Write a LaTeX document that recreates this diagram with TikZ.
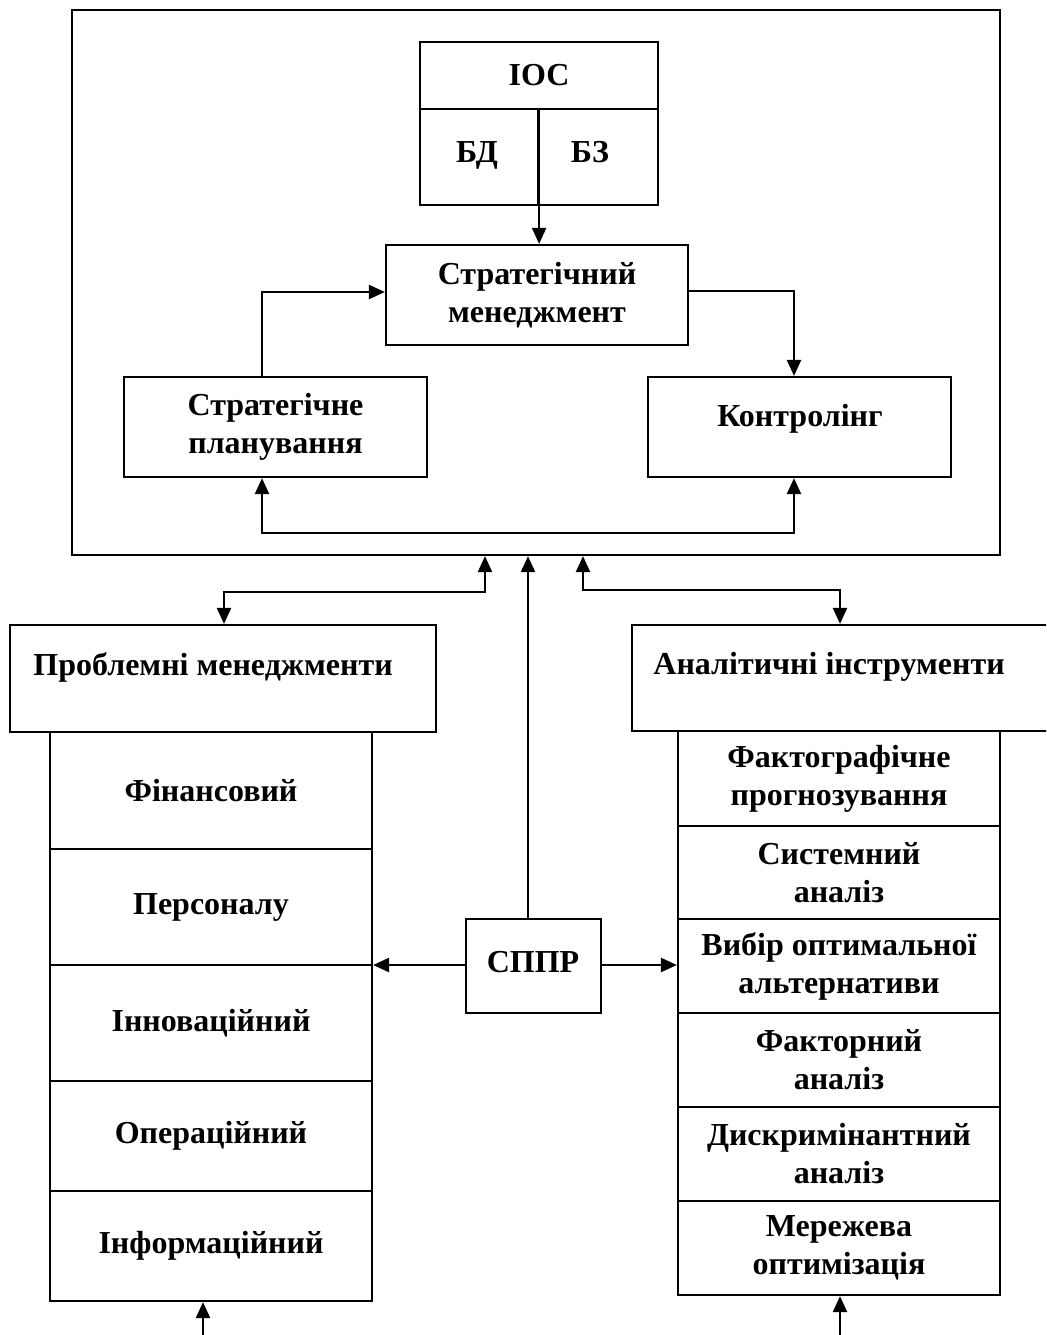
\documentclass[tikz,border=0pt]{standalone}
\usepackage{fontspec}
\setmainfont{Liberation Serif}
\usetikzlibrary{arrows.meta}
% rectangle node given by its corner coordinates (in px units)
\newcommand\rectnode[7][]{%
  \node[box,#1,minimum width={(#5-#3)*0.5pt},minimum height={(#6-#4)*0.5pt}]
    (#2) at ({(#3+#5)/2},{(#4+#6)/2}) {#7};}
\begin{document}
\begin{tikzpicture}[x=0.5pt,y=-0.5pt,
  txt/.style={font=\bfseries\fontsize{16}{19}\selectfont,align=center},
  box/.style={draw,line width=1.1pt,inner sep=0pt,txt},
  lbl/.style={inner sep=0pt,txt},
  tip/.tip={Triangle[length=8pt,width=7pt]},
  conn/.style={line width=1.1pt,-tip},
  biconn/.style={line width=1.1pt,tip-tip}]
\useasboundingbox (0,0) rectangle (1046,1335);
\clip (0,0) rectangle (1046,1335);

% upper block
\rectnode{outer}{72}{10}{1000}{555}{}
\rectnode{ioc}{420}{42}{658}{109}{ІОС}
\rectnode{bd}{420}{109}{538}{205}{}
\rectnode{bz}{538}{109}{658}{205}{}
\node[lbl,anchor=base] (bdt) at (477,162) {БД};
\node[lbl,anchor=base] (bzt) at (590,162) {БЗ};
\rectnode{strat}{386}{245}{688}{345}{Стратегічний\\менеджмент}
\rectnode{plan}{124}{377}{427}{477}{Стратегічне\\планування}
\rectnode{ctrl}{648}{377}{951}{477}{}
\node[lbl] (ctrlt) at (800,419) {Контролінг};

\coordinate (xl) at (262,0);
\coordinate (xr) at (794,0);
\coordinate (yb) at (0,533);

\draw[conn] (bd.north east) -- (bd.north east |- strat.north);
\draw[conn] (xl |- plan.north) |- (strat.west |- 0,292);
\draw[conn] (strat.east |- 0,291) -| (xr |- ctrl.north);
\draw[biconn] (xl |- plan.south) -- (xl |- yb) -- (xr |- yb) -- (xr |- ctrl.south);

% left group
\rectnode{pm}{10}{625}{436}{732}{}
\node[lbl,anchor=west] (pmt) at (33,667) {Проблемні менеджменти};
\rectnode{l1}{50}{732}{372}{849}{Фінансовий}
\rectnode{l2}{50}{849}{372}{965}{Персоналу}
\rectnode{l3}{50}{965}{372}{1081}{Інноваційний}
\rectnode{l4}{50}{1081}{372}{1191}{Операційний}
\rectnode{l5}{50}{1191}{372}{1301}{Інформаційний}

% right group
\rectnode{ai}{632}{625}{1060}{731}{}
\node[lbl,anchor=west] (ait) at (653,667) {Аналітичні інструменти};
\rectnode{r1}{678}{731}{1000}{826}{Фактографічне\\прогнозування}
\rectnode{r2}{678}{826}{1000}{919}{Системний\\аналіз}
\rectnode{r3}{678}{919}{1000}{1013}{Вибір оптимальної\\альтернативи}
\rectnode{r4}{678}{1013}{1000}{1107}{Факторний\\аналіз}
\rectnode{r5}{678}{1107}{1000}{1201}{Дискримінантний\\аналіз}
\rectnode{r6}{678}{1201}{1000}{1295}{Мережева\\оптимізація}

% decision support system
\rectnode{sppr}{466}{919}{601}{1013}{}
\node[lbl] (spprt) at (533,962) {СППР};

\coordinate (a1) at (485,0);
\coordinate (a2) at (528,0);
\coordinate (a3) at (583,0);
\coordinate (pmx) at (224,0);
\coordinate (aix) at (840,0);
\coordinate (bl) at (203,1335);
\coordinate (br) at (840,1335);

\draw[biconn] (pmx |- pm.north) -- (pmx |- 0,592) -- (a1 |- 0,592) -- (a1 |- outer.south);
\draw[biconn] (a3 |- outer.south) -- (a3 |- 0,590) -- (aix |- 0,590) -- (aix |- ai.north);
\draw[conn] (a2 |- sppr.north) -- (a2 |- outer.south);
\draw[conn] (sppr.west |- 0,965) -- (l1.east |- 0,965);
\draw[conn] (sppr.east |- 0,965) -- (r1.west |- 0,965);
\draw[conn] (bl) -- (bl |- l5.south);
\draw[conn] (br) -- (br |- r6.south);
\end{tikzpicture}
\end{document}
